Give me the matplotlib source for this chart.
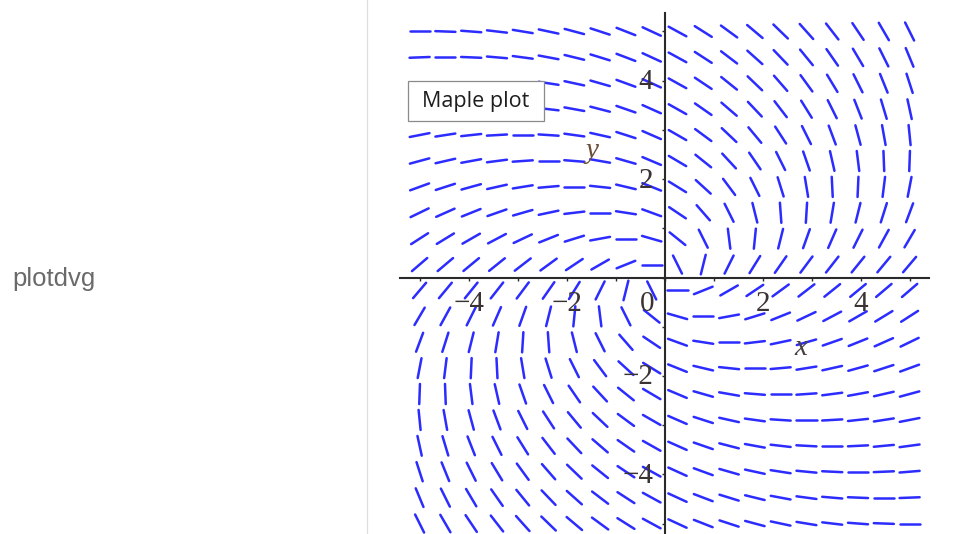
import numpy as np
import matplotlib
matplotlib.use("Agg")
import matplotlib.pyplot as plt
from matplotlib.collections import LineCollection
from matplotlib.patches import Rectangle
from matplotlib.lines import Line2D

# ---- data ----
# direction field dy/dx = (a*x + b*y) / (c*x + d*y)
ode_num = (1.0, 1.0)     # a, b
ode_den = (1.0, -2.0)    # c, d
grid_x = [-5.0, -4.474, -3.947, -3.421, -2.895, -2.368, -1.842, -1.316, -0.789, -0.263,
          0.263, 0.789, 1.316, 1.842, 2.368, 2.895, 3.421, 3.947, 4.474, 5.0]
grid_y = [-5.0, -4.474, -3.947, -3.421, -2.895, -2.368, -1.842, -1.316, -0.789, -0.263,
          0.263, 0.789, 1.316, 1.842, 2.368, 2.895, 3.421, 3.947, 4.474, 5.0]
x_tick_vals = [-5, -4, -3, -2, -1, 0, 1, 2, 3, 4, 5]
y_tick_vals = [-5, -4, -3, -2, -1, 0, 1, 2, 3, 4, 5]
x_tick_labels = {-4: "\u22124", -2: "\u22122", 0: "0", 2: "2", 4: "4"}
y_tick_labels = {-4: "\u22124", -2: "\u22122", 2: "2", 4: "4"}
x_label = "x"
y_label = "y"
side_label = "plotdvg"
box_label = "Maple plot"

W, H = 956, 534
fig = plt.figure(figsize=(W / 100, H / 100), dpi=100)

# axes placement (pixels -> fractions)
xlim = (-5.4, 5.4)
ylim = (-5.4, 5.38)
left_px, right_px = 400, 929.2
top_px, bot_px = 12.8, 543.2
ax = fig.add_axes([left_px / W, (H - bot_px) / H, (right_px - left_px) / W, (bot_px - top_px) / H])
ax.set_xlim(*xlim)
ax.set_ylim(*ylim)
ax.patch.set_alpha(0)

# direction segments
seg_len = 0.41
segs = []
for xv in grid_x:
    for yv in grid_y:
        dx = ode_den[0] * xv + ode_den[1] * yv
        dy = ode_num[0] * xv + ode_num[1] * yv
        n = np.hypot(dx, dy)
        ux, uy = dx / n, dy / n
        segs.append([(xv - ux * seg_len / 2, yv - uy * seg_len / 2),
                     (xv + ux * seg_len / 2, yv + uy * seg_len / 2)])
lc = LineCollection(segs, colors="#2c2cff", linewidths=1.8, capstyle="round", zorder=2)
ax.add_collection(lc)

# axes through origin
for s in ["top", "right"]:
    ax.spines[s].set_visible(False)
ax.spines["left"].set_position(("data", 0))
ax.spines["bottom"].set_position(("data", 0))
for s in ["left", "bottom"]:
    ax.spines[s].set_color("#2a2a2a")
    ax.spines[s].set_linewidth(1.5)
    ax.spines[s].set_zorder(3)
ax.set_xticks(x_tick_vals)
ax.set_yticks(y_tick_vals)
ax.set_xticklabels([])
ax.set_yticklabels([])
ax.tick_params(direction="out", length=2.5, width=1.0, color="#2a2a2a")

serif = ["Liberation Serif", "DejaVu Serif"]
lab_col = "#3b3333"
for v, t in x_tick_labels.items():
    xx = v if v != 0 else -0.36
    ax.text(xx, -0.54, t, ha="center", va="center", fontsize=21, family=serif, color=lab_col, zorder=4)
for v, t in y_tick_labels.items():
    ax.text(-0.235, v - 0.03, t, ha="right", va="center", fontsize=21, family=serif, color=lab_col, zorder=4)
ax.text(2.77, -1.43, x_label, ha="center", va="center", fontsize=21, family=serif,
        style="italic", color="#4a4040", zorder=4)
ax.text(-1.48, 2.57, y_label, ha="center", va="center", fontsize=21, family=serif,
        style="italic", color="#6a5038", zorder=4)

# left side label and separator
fig.text(12 / W, 1 - 279 / H, side_label, ha="left", va="center", fontsize=18.5,
         family=["Liberation Sans", "DejaVu Sans"], color="#6a6a6a")
fig.add_artist(Line2D([366.5 / W, 366.5 / W], [0, 1], color="#dedede", linewidth=0.9))

# "Maple plot" box
bx0, by0, bx1, by1 = 408, 81, 544, 121
fig.add_artist(Rectangle((bx0 / W, 1 - by1 / H), (bx1 - bx0) / W, (by1 - by0) / H,
                         facecolor="white", edgecolor="#8a8a8a", linewidth=0.9,
                         transform=fig.transFigure, zorder=10))
fig.text((bx0 + bx1) / 2 / W, 1 - 101.5 / H, box_label, ha="center", va="center",
         fontsize=15.5, family=["Open Sans", "DejaVu Sans"], color="#1e1e1e", zorder=11)

fig.savefig("out.png", dpi=100)
